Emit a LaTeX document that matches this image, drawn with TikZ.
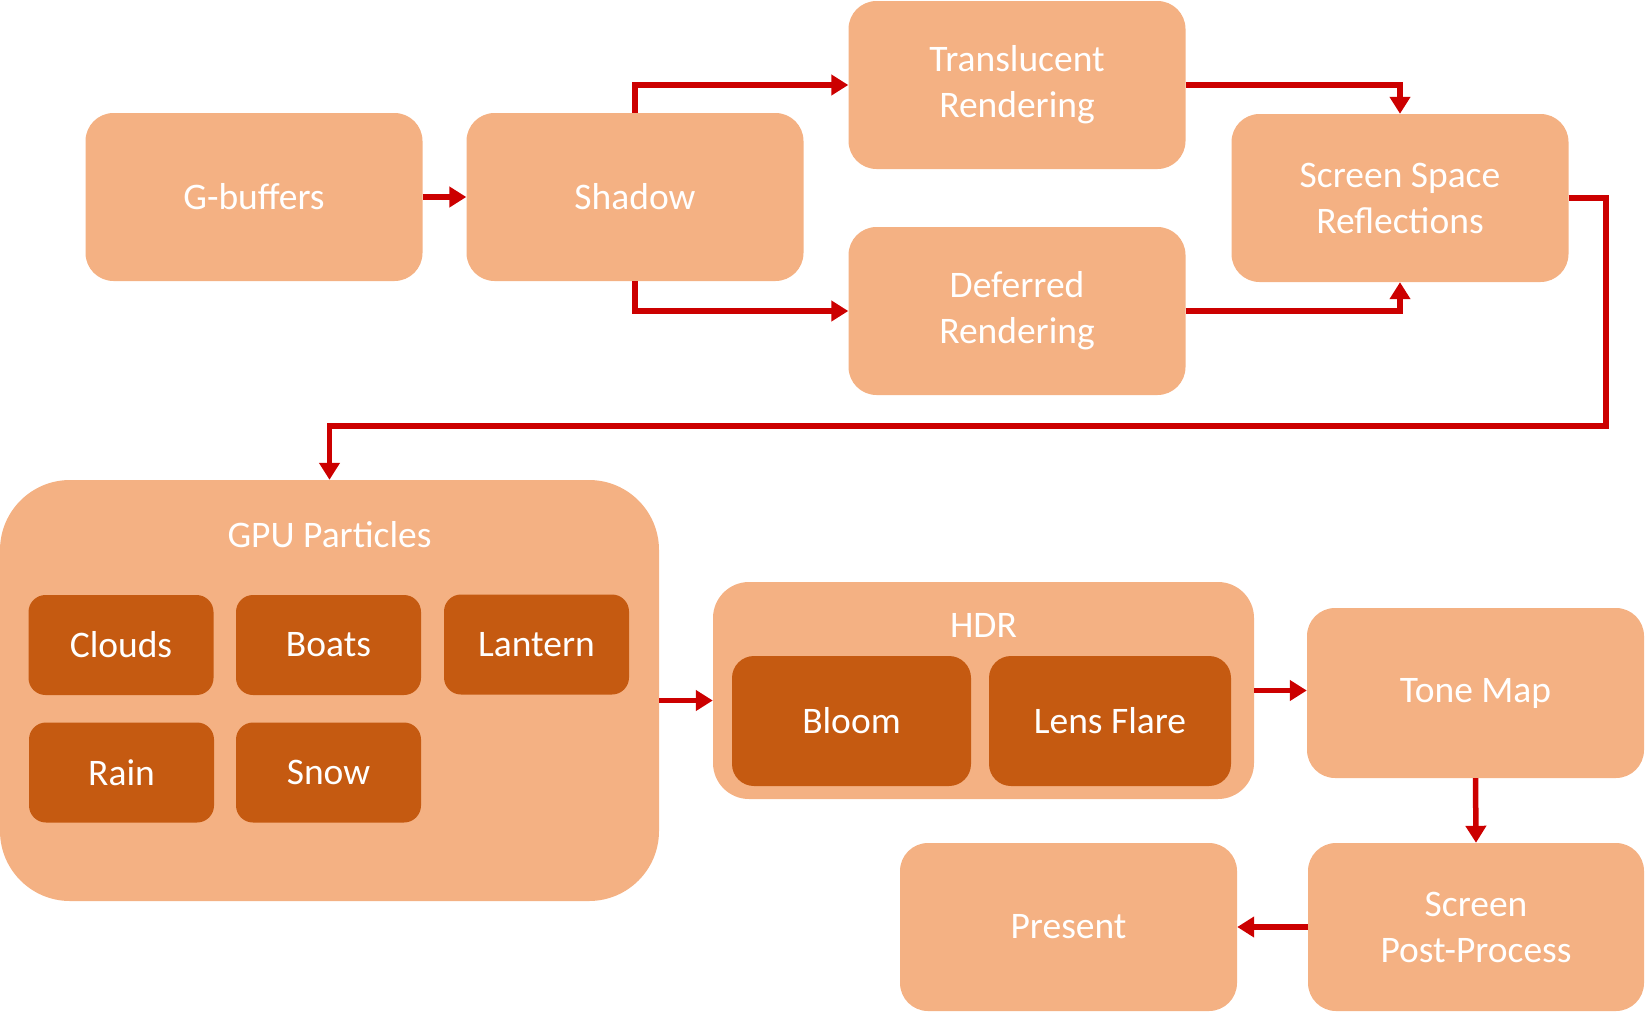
\documentclass[tikz,border=0pt]{standalone}
\usepackage{fontspec}
\setmainfont{Carlito}
\usetikzlibrary{arrows.meta}
\definecolor{boxfill}{HTML}{F4B183}
\definecolor{innerfill}{HTML}{C55A11}
\definecolor{arrowred}{HTML}{CC0000}
\begin{document}
\begin{tikzpicture}[x=1pt,y=-1pt,
  box/.style={rectangle, fill=boxfill, rounded corners=28pt, text=white, align=center,
    font=\fontsize{37.5}{46}\selectfont, inner sep=0pt, minimum width=337pt, minimum height=168pt},
  subbox/.style={rectangle, fill=innerfill, rounded corners=17pt, text=white, align=center,
    font=\fontsize{37.5}{46}\selectfont, inner sep=0pt, minimum width=185pt, minimum height=100pt},
  lbl/.style={text=white, font=\fontsize{37.5}{46}\selectfont, inner sep=0pt},
  arr/.style={draw=arrowred, line width=5.5pt, -{Triangle[length=17pt,width=20pt]}}]
\useasboundingbox (0,0) rectangle (1646,1012);

\node[box] (gbuf) at (254,197) {G-buffers};
\node[box] (shadow) at (635,197) {Shadow};
\node[box] (transl) at (1017,85) {Translucent\\Rendering};
\node[box] (deferred) at (1017,311) {Deferred\\Rendering};
\node[box] (ssr) at (1400,198) {Screen Space\\Reflections};

\node[box, minimum width=659pt, minimum height=421pt, rounded corners=70pt] (gpu) at (329.5,690.5) {};
\node[lbl] (gputitle) at (329.5,535) {GPU Particles};
\node[subbox] (clouds) at (121,645) {Clouds};
\node[subbox] (boats) at (328.5,645) {Boats};
\node[subbox] (lantern) at (536.5,644.5) {Lantern};
\node[subbox] (rain) at (121.5,772.5) {Rain};
\node[subbox] (snow) at (328.5,772.5) {Snow};

\node[box, minimum width=541pt, minimum height=217pt, rounded corners=36pt] (hdr) at (983.5,690.5) {};
\node[lbl] (hdrtitle) at (983.5,625) {HDR};
\node[subbox, minimum width=239pt, minimum height=130pt, rounded corners=22pt] (bloom) at (851.5,721) {Bloom};
\node[subbox, minimum width=242pt, minimum height=130pt, rounded corners=22pt] (lens) at (1110,721) {Lens Flare};

\node[box, minimum height=170pt] (tone) at (1475.5,693) {Tone Map};
\node[box] (present) at (1068.5,927) {Present};
\node[box, minimum width=336pt] (spp) at (1476,927) {Screen\\Post-Process};

\coordinate (loop) at (1606,426);

\draw[arr] (gbuf) -- (shadow);
\draw[arr] (shadow.north) |- (transl.west);
\draw[arr] (shadow.south) |- (deferred.west);
\draw[arr] (transl.east) -| (ssr.north);
\draw[arr] (deferred.east) -| (ssr.south);
\draw[arr] (ssr.east) -| (loop) -| (gpu.north);
\draw[arr] ([yshift=-10pt]gpu.east) -- ([yshift=-10pt]hdr.west);
\draw[arr] (hdr.east) -- (tone.west |- hdr.east);
\draw[arr] (tone.south) -- (spp.north);
\draw[arr] (spp.west) -- (present.east);
\end{tikzpicture}
\end{document}
